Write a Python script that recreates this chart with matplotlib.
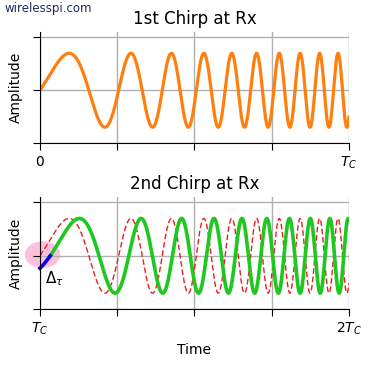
import numpy as np
import matplotlib.pyplot as plt
from matplotlib.patches import Ellipse

# chirp parameters (time normalised to T_C)
F0 = 1.9          # start frequency, cycles per T_C
HALF_RATE = 7.97  # k/2 in phase = F0*t + k/2*t^2
AMP = 0.7
DELAY = 0.033     # delay of 2nd chirp, fraction of T_C

x_ticks = [0, 0.25, 0.5, 0.75, 1.0]
top_labels = ['0', '', '', '', r'$T_C$']
bot_labels = [r'$T_C$', '', '', '', r'$2T_C$']
y_ticks = [-1, 0, 1]


def chirp(t):
    return AMP * np.sin(2 * np.pi * (F0 * t + HALF_RATE * t ** 2))


t = np.linspace(0, 1, 2000)

fig = plt.figure(figsize=(3.72, 3.65), dpi=100)
ax1 = fig.add_axes([0.1075, 0.608, 0.8305, 0.304])
ax2 = fig.add_axes([0.1075, 0.153, 0.8305, 0.307])

for ax, labels in [(ax1, top_labels), (ax2, bot_labels)]:
    ax.set_xlim(0, 1)
    ax.set_ylim(-1, 1.1)
    ax.set_xticks(x_ticks)
    ax.set_xticklabels(labels, fontsize=10)
    ax.set_yticks(y_ticks)
    ax.set_yticklabels([])
    ax.grid(True, color='#b0b0b0', linewidth=1)
    ax.spines['top'].set_visible(False)
    ax.spines['right'].set_visible(False)
    ax.set_ylabel('Amplitude', fontsize=10)
    ax.tick_params(length=5)

# 1st chirp
ax1.plot(t, chirp(t), color='#ff7f0e', linewidth=2.3)
ax1.set_title('1st Chirp at Rx', fontsize=12)

# 2nd chirp: reference (dashed) and delayed copy
ax2.add_patch(Ellipse((0.008, 0.02), 0.115, 0.5, color='hotpink', alpha=0.42,
                      linewidth=0, clip_on=False, zorder=1))
ax2.plot(t, chirp(t), color='#ee1c1c', linestyle='--', linewidth=1, dashes=(4, 2))
t_del = t[t >= DELAY]
ax2.plot(t_del, chirp(t_del - DELAY), color='#1ec81e', linewidth=2.6)
t_pre = np.linspace(0, DELAY, 50)
ax2.plot(t_pre, chirp(t_pre - DELAY), color='#0000ee', linewidth=2.6, clip_on=False)
ax2.text(0.016, -0.42, r'$\Delta_\tau$', fontsize=11, va='center')
ax2.set_title('2nd Chirp at Rx', fontsize=12)
ax2.set_xlabel('Time', fontsize=10)

fig.text(0.012, 0.995, 'wirelesspi.com', fontsize=8.5, color='#1f2a5e',
         va='top', ha='left')

fig.savefig('out.png', dpi=100)
